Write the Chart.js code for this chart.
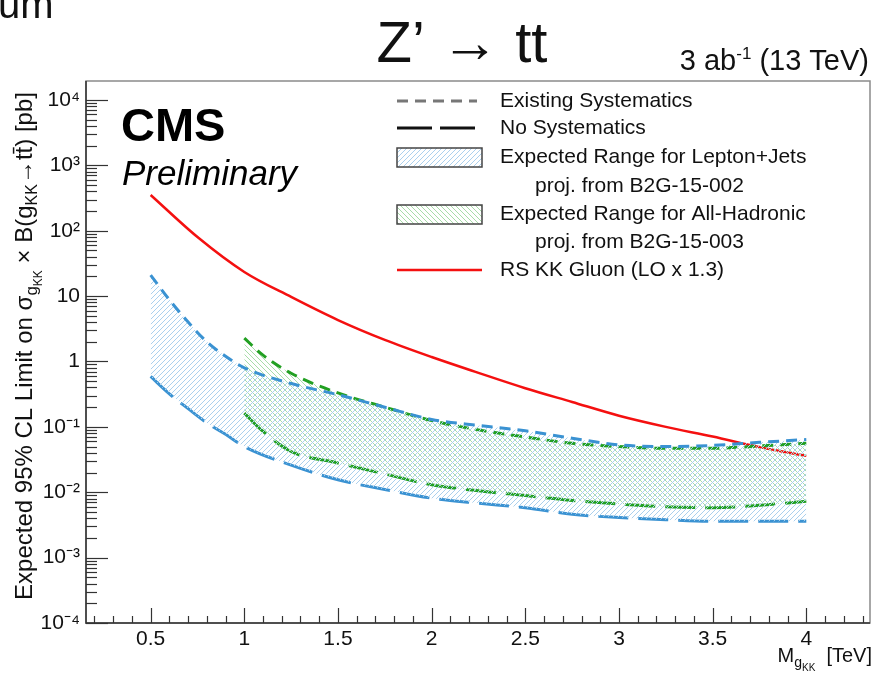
<!DOCTYPE html>
<html>
<head>
<meta charset="utf-8">
<script src="https://cdn.jsdelivr.net/npm/chart.js@4.4.1/dist/chart.umd.min.js"></script>
<style>
  html, body { margin: 0; padding: 0; background: #fff; }
  #wrap { width: 874px; height: 675px; }
</style>
</head>
<body>
<div id="wrap"><canvas id="limitChart" width="874" height="675"></canvas></div>
<script>
// Lepton+Jets projection (B2G-15-002)
const massLJ = [0.5, 0.6, 0.7, 0.8, 0.9, 1.0, 1.25, 1.5, 1.75, 2.0, 2.25, 2.5, 2.75, 3.0, 3.25, 3.5, 3.75, 4.0];
const ljExisting = [21, 8.8, 4.0, 2.0, 1.2, 0.8, 0.46, 0.31, 0.2, 0.13, 0.105, 0.087, 0.067, 0.053, 0.05, 0.052, 0.058, 0.064];
const ljNoSyst = [0.59, 0.32, 0.19, 0.115, 0.077, 0.05, 0.026, 0.0155, 0.011, 0.0081, 0.0068, 0.0058, 0.0046, 0.0041, 0.0038, 0.0036, 0.0036, 0.0036];

// All-Hadronic projection (B2G-15-003)
const massAH = [1.0, 1.1, 1.25, 1.5, 1.75, 2.0, 2.25, 2.5, 2.75, 3.0, 3.25, 3.5, 3.75, 4.0];
const ahExisting = [2.27, 1.25, 0.66, 0.33, 0.2, 0.125, 0.09, 0.07, 0.056, 0.05, 0.047, 0.047, 0.051, 0.056];
const ahNoSyst = [0.162, 0.085, 0.042, 0.028, 0.019, 0.013, 0.0105, 0.0089, 0.0075, 0.0066, 0.006, 0.0058, 0.0063, 0.0073];

// RS KK gluon cross section (LO x 1.3)
const massGluon = [0.5, 0.75, 1.0, 1.25, 1.5, 1.75, 2.0, 2.25, 2.5, 2.75, 3.0, 3.25, 3.5, 3.75, 4.0];
const gluonXsec = [352, 80, 23.4, 9.7, 4.3, 2.14, 1.17, 0.67, 0.39, 0.24, 0.148, 0.1, 0.071, 0.049, 0.036];

// Axis ticks
const xTickValues = [0.5, 1, 1.5, 2, 2.5, 3, 3.5, 4];
const xTickLabels = ["0.5", "1", "1.5", "2", "2.5", "3", "3.5", "4"];
const yTickValues = [1e-4, 1e-3, 1e-2, 1e-1, 1, 10, 1e2, 1e3, 1e4];
const yTickLabels = ["10\u207B\u2074", "10\u207B\u00B3", "10\u207B\u00B2", "10\u207B\u00B9", "1", "10", "10\u00B2", "10\u00B3", "10\u2074"];

const legendLabels = [
  "Existing Systematics",
  "No Systematics",
  "Expected Range for Lepton+Jets",
  "proj. from B2G-15-002",
  "Expected Range for All-Hadronic",
  "proj. from B2G-15-003",
  "RS KK Gluon (LO x 1.3)",
];

const FONT = "'Liberation Sans', Arial, Helvetica, sans-serif";
const BLUE = "#3a92d2";
const GREEN = "#22a022";
const RED = "#f41010";
const DASH_SHORT = [11, 7];
const DASH_LONG = [30, 10];

Chart.defaults.font.family = FONT;
Chart.defaults.color = "#111";

// Hatched fill like ROOT fill styles (pixel diagonals, no antialiasing)
function makeHatch(color, forward) {
  const s = 5;
  const c = document.createElement("canvas");
  c.width = s;
  c.height = s;
  const g = c.getContext("2d");
  g.fillStyle = color;
  for (let i = 0; i < s; i++) {
    const y = forward ? s - 1 - i : i;
    g.fillRect(i, y, 1, 1);
  }
  return g.createPattern(c, "repeat");
}

const hatchBlue = makeHatch("rgb(170,208,238)", true);
const hatchGreen = makeHatch("rgb(168,220,168)", false);

const toPoints = (xs, ys) => xs.map((x, i) => ({ x: x, y: ys[i] }));

// Text with sub/superscripts: parts = [{t, s, dy}]
function richText(ctx, parts, x, y, align) {
  let w = 0;
  parts.forEach((p) => {
    ctx.font = (p.style || "") + " " + p.s + "px " + FONT;
    p.w = ctx.measureText(p.t).width;
    w += p.w;
  });
  let cx = align === "right" ? x - w : align === "center" ? x - w / 2 : x;
  ctx.textAlign = "left";
  ctx.textBaseline = "alphabetic";
  parts.forEach((p) => {
    ctx.font = (p.style || "") + " " + p.s + "px " + FONT;
    ctx.fillText(p.t, cx, y + (p.dy || 0));
    cx += p.w;
  });
}

function legendLine(ctx, x0, x1, y, color, dash, width) {
  ctx.save();
  ctx.strokeStyle = color;
  ctx.lineWidth = width;
  ctx.setLineDash(dash);
  ctx.beginPath();
  ctx.moveTo(x0, y);
  ctx.lineTo(x1, y);
  ctx.stroke();
  ctx.restore();
}

function legendBox(ctx, x, y, w, h, pattern) {
  ctx.save();
  ctx.fillStyle = pattern;
  ctx.fillRect(x, y, w, h);
  ctx.strokeStyle = "#444";
  ctx.lineWidth = 1.5;
  ctx.strokeRect(x, y, w, h);
  ctx.restore();
}

const rootDecor = {
  id: "rootDecor",
  afterDraw(chart) {
    const ctx = chart.ctx;
    const a = chart.chartArea;
    const xs = chart.scales.x;
    const ys = chart.scales.y;
    ctx.save();

    // frame
    ctx.strokeStyle = "#8a8a8a";
    ctx.lineWidth = 1.5;
    ctx.strokeRect(a.left, a.top, a.right - a.left, a.bottom - a.top);
    ctx.strokeStyle = "#333";
    ctx.beginPath();
    ctx.moveTo(a.left, a.top);
    ctx.lineTo(a.left, a.bottom);
    ctx.lineTo(a.right, a.bottom);
    ctx.stroke();

    // x ticks (inside)
    ctx.lineWidth = 1.2;
    for (let k = 2; k <= 43; k++) {
      const px = Math.round(xs.getPixelForValue(k / 10)) + 0.5;
      const len = k % 5 === 0 ? 15 : 7;
      ctx.beginPath();
      ctx.moveTo(px, a.bottom);
      ctx.lineTo(px, a.bottom - len);
      ctx.stroke();
    }
    // y ticks (inside, log)
    for (let e = -4; e <= 4; e++) {
      for (let m = 1; m <= 9; m++) {
        const v = m * Math.pow(10, e);
        if (v > ys.max) continue;
        const py = Math.round(ys.getPixelForValue(v)) + 0.5;
        const len = m === 1 ? 22 : 11;
        ctx.beginPath();
        ctx.moveTo(a.left, py);
        ctx.lineTo(a.left + len, py);
        ctx.stroke();
      }
    }

    ctx.fillStyle = "#111";

    // cut-off text from the page above
    richText(ctx, [{ t: "um", s: 40 }], -2, 18, "left");

    // title
    richText(ctx, [{ t: "Z\u2019 \u2192 tt", s: 58 }], 462, 62, "center");

    // luminosity
    richText(ctx, [
      { t: "3 ab", s: 29 },
      { t: "-1", s: 17, dy: -11 },
      { t: " (13 TeV)", s: 29 },
    ], 869, 70, "right");

    // CMS label
    ctx.fillStyle = "#000";
    richText(ctx, [{ t: "CMS", s: 47, style: "bold" }], 121, 141, "left");
    richText(ctx, [{ t: "Preliminary", s: 35, style: "italic" }], 122, 185, "left");
    ctx.fillStyle = "#111";

    // y axis title
    ctx.save();
    ctx.translate(32, 346);
    ctx.rotate(-Math.PI / 2);
    richText(ctx, [
      { t: "Expected 95% CL Limit on \u03C3", s: 24 },
      { t: "g", s: 17, dy: 5 },
      { t: "KK", s: 12, dy: 10 },
      { t: " \u00D7 B(g", s: 24 },
      { t: "KK", s: 16, dy: 5 },
      { t: "\u2192t", s: 24 },
      { t: "t\u0304", s: 24 },
      { t: ") [pb]", s: 24 },
    ], 0, 0, "center");
    ctx.restore();

    // x axis title
    richText(ctx, [
      { t: "M", s: 20 },
      { t: "g", s: 14, dy: 5 },
      { t: "KK", s: 10, dy: 9 },
      { t: "  [TeV]", s: 20 },
    ], 872, 662, "right");

    // legend
    ctx.fillStyle = "#111";
    legendLine(ctx, 397, 477, 101, "#777", DASH_SHORT, 3);
    legendLine(ctx, 397, 477, 128, "#111", [35, 8], 3);
    legendBox(ctx, 397, 148, 85, 19, hatchBlue);
    legendBox(ctx, 397, 205, 85, 19, hatchGreen);
    legendLine(ctx, 397, 482, 270, RED, [], 2.5);
    ctx.font = "21px " + FONT;
    ctx.textAlign = "left";
    ctx.textBaseline = "middle";
    const rows = [
      [500, 101], [500, 128], [500, 157], [535, 186],
      [500, 214], [535, 242], [500, 270],
    ];
    legendLabels.forEach((txt, i) => ctx.fillText(txt, rows[i][0], rows[i][1]));

    ctx.restore();
  },
};

const ctx = document.getElementById("limitChart").getContext("2d");

new Chart(ctx, {
  type: "line",
  data: {
    datasets: [
      {
        label: "L+J existing",
        data: toPoints(massLJ, ljExisting),
        borderColor: BLUE,
        borderDash: DASH_SHORT,
        borderWidth: 3,
        backgroundColor: hatchBlue,
        fill: "+1",
      },
      {
        label: "L+J no syst",
        data: toPoints(massLJ, ljNoSyst),
        borderColor: BLUE,
        borderDash: DASH_LONG,
        borderWidth: 3,
        fill: false,
      },
      {
        label: "AH existing",
        data: toPoints(massAH, ahExisting),
        borderColor: GREEN,
        borderDash: DASH_SHORT,
        borderWidth: 3,
        backgroundColor: hatchGreen,
        fill: "+1",
      },
      {
        label: "AH no syst",
        data: toPoints(massAH, ahNoSyst),
        borderColor: GREEN,
        borderDash: DASH_LONG,
        borderWidth: 3,
        fill: false,
      },
      {
        label: "RS KK Gluon",
        data: toPoints(massGluon, gluonXsec),
        borderColor: RED,
        borderWidth: 2.5,
        fill: false,
      },
    ],
  },
  options: {
    responsive: false,
    animation: false,
    devicePixelRatio: 1,
    layout: { padding: { top: 81, right: 4, left: 0, bottom: 0 } },
    elements: {
      point: { radius: 0 },
      line: { cubicInterpolationMode: "monotone" },
    },
    plugins: {
      legend: { display: false },
      tooltip: { enabled: false },
    },
    scales: {
      x: {
        type: "linear",
        min: 0.155,
        max: 4.34,
        grid: { display: false, drawTicks: false },
        border: { display: false },
        afterBuildTicks(scale) {
          scale.ticks = xTickValues.map((v) => ({ value: v }));
        },
        afterFit(scale) {
          scale.height = 52;
        },
        ticks: {
          autoSkip: false,
          maxRotation: 0,
          padding: 4,
          font: { size: 21 },
          color: "#111",
          callback: (v) => {
            const i = xTickValues.indexOf(v);
            return i >= 0 ? xTickLabels[i] : "";
          },
        },
      },
      y: {
        type: "logarithmic",
        min: 1e-4,
        max: 1.95e4,
        grid: { display: false, drawTicks: false },
        border: { display: false },
        afterBuildTicks(scale) {
          scale.ticks = yTickValues.map((v) => ({ value: v }));
        },
        afterFit(scale) {
          scale.width = 86;
        },
        ticks: {
          autoSkip: false,
          padding: 6,
          font: { size: 21 },
          color: "#111",
          callback: (v) => {
            const i = yTickValues.indexOf(v);
            return i >= 0 ? yTickLabels[i] : "";
          },
        },
      },
    },
  },
  plugins: [rootDecor],
});
</script>
</body>
</html>
